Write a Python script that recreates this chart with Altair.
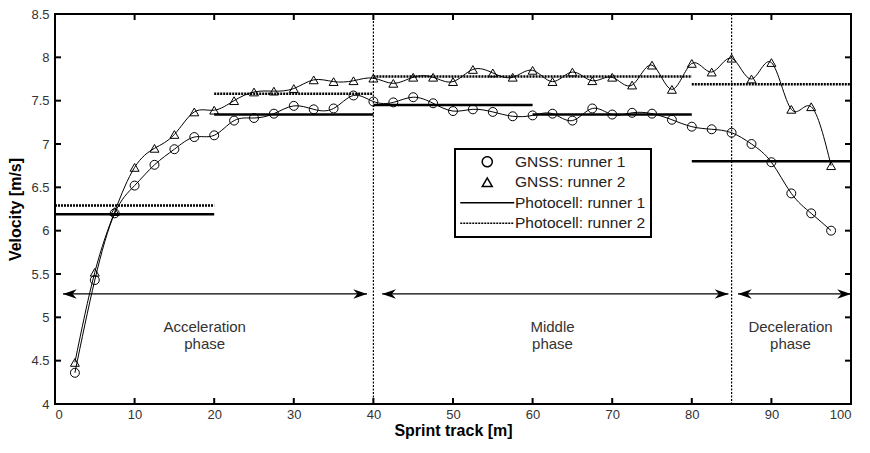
import altair as alt
import pandas as pd

# ---------------- data ----------------
x_pos = [2.5, 5, 7.5, 10, 12.5, 15, 17.5, 20, 22.5, 25, 27.5, 30, 32.5, 35, 37.5,
         40, 42.5, 45, 47.5, 50, 52.5, 55, 57.5, 60, 62.5, 65, 67.5, 70, 72.5, 75,
         77.5, 80, 82.5, 85, 87.5, 90, 92.5, 95, 97.5]
runner1 = [4.36, 5.43, 6.20, 6.52, 6.76, 6.94, 7.08, 7.10, 7.27, 7.30, 7.35, 7.44,
           7.40, 7.41, 7.56, 7.49, 7.48, 7.54, 7.47, 7.38, 7.40, 7.37, 7.32, 7.33,
           7.35, 7.27, 7.41, 7.34, 7.36, 7.35, 7.28, 7.20, 7.17, 7.13, 7.00, 6.79,
           6.43, 6.20, 6.00]
runner2 = [4.48, 5.52, 6.22, 6.73, 6.95, 7.11, 7.37, 7.39, 7.50, 7.60, 7.61, 7.64,
           7.74, 7.72, 7.73, 7.76, 7.70, 7.77, 7.77, 7.72, 7.86, 7.82, 7.77, 7.85,
           7.72, 7.83, 7.73, 7.77, 7.68, 7.91, 7.63, 7.93, 7.83, 7.99, 7.75, 7.94,
           7.40, 7.43, 6.75]

photo_start = [0, 20, 40, 60, 80]
photo_end = [20, 40, 60, 80, 100]
photo_r1 = [6.19, 7.34, 7.45, 7.34, 6.80]
photo_r2 = [6.29, 7.58, 7.78, 7.78, 7.69]

phase_bounds = [40, 85]
arrow_start = [1.0, 41.1, 85.8]
arrow_end = [39.2, 84.6, 100.0]
arrow_level = 5.27
phase_labels = ["Acceleration\nphase", "Middle\nphase", "Deceleration\nphase"]
phase_label_x = [18.8, 62.5, 92.4]
phase_label_y = 4.89

series_names = ["GNSS: runner 1", "GNSS: runner 2", "Photocell: runner 1", "Photocell: runner 2"]

x_ticks = [10, 20, 30, 40, 50, 60, 70, 80, 90]
y_ticks = [4.5, 5, 5.5, 6, 6.5, 7, 7.5, 8]
x_min, x_max = 0, 100
y_min, y_max = 4, 8.5

# ---------------- tables ----------------
gnss_df = pd.DataFrame({
    "x": x_pos * 2,
    "v": runner1 + runner2,
    "series": [series_names[0]] * len(x_pos) + [series_names[1]] * len(x_pos),
})
photo_df = pd.DataFrame({
    "x0": photo_start * 2,
    "x1": photo_end * 2,
    "v": photo_r1 + photo_r2,
    "series": [series_names[2]] * len(photo_start) + [series_names[3]] * len(photo_start),
})
bounds_df = pd.DataFrame({"bx": phase_bounds})
arrows_df = pd.DataFrame({"a0": arrow_start, "a1": arrow_end, "ay": [arrow_level] * 3})
heads_df = pd.DataFrame({
    "tip": arrow_start + arrow_end,
    "ay": [arrow_level] * 6,
    "ang": [180] * 3 + [0] * 3,
})
labels_df = pd.DataFrame({"lx": phase_label_x, "ly": [phase_label_y] * 3, "txt": phase_labels})

xt_df = pd.DataFrame({"tx": x_ticks})
yt_df = pd.DataFrame({"ty": y_ticks})

# ---------------- layout ----------------
W, H = 796, 390
TICK = 6
FONT = "Liberation Sans"

x_scale = alt.Scale(domain=[x_min, x_max], nice=False)
y_scale = alt.Scale(domain=[y_min, y_max], nice=False, zero=False)

line_path = "M-5.4,0H5.4"
shape_scale = alt.Scale(domain=series_names,
                        range=["circle", "triangle-up", line_path, line_path])
dash_scale = alt.Scale(domain=series_names, range=[[1, 0], [1, 0], [1, 0], [2, 1]])

legend = alt.Legend(title=None, orient="none", legendX=400, legendY=135)

ax_x = alt.Axis(orient="bottom", values=[x_min] + x_ticks + [x_max], ticks=False, domain=False,
                grid=False, labelPadding=4, title="Sprint track [m]", titlePadding=1)
ax_y = alt.Axis(orient="left", values=[y_min] + y_ticks + [y_max], ticks=False, domain=False,
                grid=False, labelPadding=6, format=".1~f", title="Velocity [m/s]", titlePadding=7)

base_g = alt.Chart(gnss_df)

lines = base_g.mark_line(interpolate="natural", color="black", strokeWidth=1).encode(
    x=alt.X("x:Q", scale=x_scale, axis=ax_x),
    y=alt.Y("v:Q", scale=y_scale, axis=ax_y),
    detail="series:N",
)

points = base_g.mark_point(filled=False, color="black", size=80, strokeWidth=1, opacity=1).encode(
    x=alt.X("x:Q", scale=x_scale),
    y=alt.Y("v:Q", scale=y_scale),
    shape=alt.Shape("series:N", scale=shape_scale, legend=legend),
)

photo = alt.Chart(photo_df).mark_rule(color="black", strokeWidth=2.5).encode(
    x=alt.X("x0:Q", scale=x_scale),
    x2="x1:Q",
    y=alt.Y("v:Q", scale=y_scale),
    strokeDash=alt.StrokeDash("series:N", scale=dash_scale, legend=legend),
)

bounds = alt.Chart(bounds_df).mark_rule(color="black", strokeWidth=1.2, strokeDash=[2, 1.5]).encode(
    x=alt.X("bx:Q", scale=x_scale),
)

shafts = alt.Chart(arrows_df).mark_rule(color="black", strokeWidth=1.2).encode(
    x=alt.X("a0:Q", scale=x_scale),
    x2="a1:Q",
    y=alt.Y("ay:Q", scale=y_scale),
)

head_path = "M0,0L-2.3,-0.8L-1.6,0L-2.3,0.8Z"
heads = alt.Chart(heads_df).mark_point(shape=head_path, filled=True, color="black",
                                       size=144, opacity=1).encode(
    x=alt.X("tip:Q", scale=x_scale),
    y=alt.Y("ay:Q", scale=y_scale),
    angle=alt.Angle("ang:Q", scale=None),
)

texts = alt.Chart(labels_df).mark_text(lineBreak="\n", font=FONT, fontSize=15, color="#333333",
                                       lineHeight=17, baseline="middle", align="center").encode(
    x=alt.X("lx:Q", scale=x_scale),
    y=alt.Y("ly:Q", scale=y_scale),
    text="txt:N",
)

# inward tick marks on all four sides (MATLAB-style frame)
tick_style = dict(color="black", strokeWidth=2, opacity=1)
ticks_bottom = alt.Chart(xt_df).mark_rule(**tick_style).encode(
    x=alt.X("tx:Q", scale=x_scale), y=alt.value(H), y2=alt.value(H - TICK))
ticks_top = alt.Chart(xt_df).mark_rule(**tick_style).encode(
    x=alt.X("tx:Q", scale=x_scale), y=alt.value(0), y2=alt.value(TICK))
ticks_left = alt.Chart(yt_df).mark_rule(**tick_style).encode(
    y=alt.Y("ty:Q", scale=y_scale), x=alt.value(0), x2=alt.value(TICK))
ticks_right = alt.Chart(yt_df).mark_rule(**tick_style).encode(
    y=alt.Y("ty:Q", scale=y_scale), x=alt.value(W), x2=alt.value(W - TICK))

chart = alt.layer(lines, points, photo, bounds, shafts, heads, texts,
                  ticks_bottom, ticks_top, ticks_left, ticks_right).properties(
    width=W, height=H,
    autosize=alt.AutoSizeParams(type="none"),
    padding={"left": 47, "top": 6, "right": 11, "bottom": 36},
).configure_view(
    stroke="black", strokeWidth=2,
).configure_axis(
    labelFont=FONT, labelFontSize=13, labelColor="#333333",
    titleFont=FONT, titleFontSize=16, titleFontWeight="bold", titleColor="black",
).configure_legend(
    labelFont=FONT, labelFontSize=15.5, labelColor="#222222", labelLimit=300,
    fillColor="white", strokeColor="black", strokeWidth=2, padding=5,
    symbolOffset=19.5, labelOffset=20, rowPadding=3.5,
    symbolStrokeColor="black", symbolStrokeWidth=1.5,
)

chart.save("out.html", embed_options={"renderer": "svg", "actions": False})
